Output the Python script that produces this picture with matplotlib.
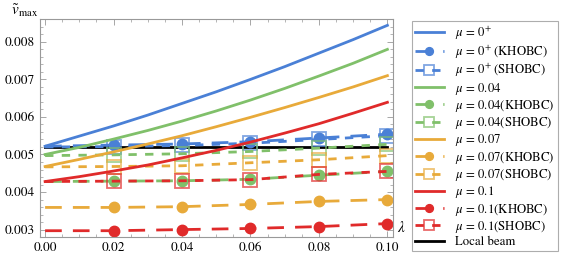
import numpy as np
import matplotlib
matplotlib.use("Agg")
import matplotlib.pyplot as plt
from matplotlib.colors import to_rgba

plt.rcParams['font.family'] = ['STIXGeneral', 'DejaVu Serif']
plt.rcParams['mathtext.fontset'] = 'stix'

# solid curves (analytic, mu values)
lam_fine = [0.0, 0.01, 0.02, 0.03, 0.04, 0.05, 0.06, 0.07, 0.08, 0.09, 0.10]
mu0 = [0.00522, 0.00549, 0.00576, 0.00605, 0.00636, 0.00667, 0.00700, 0.00734, 0.00770, 0.00806, 0.00844]
mu004 = [0.00500, 0.00519, 0.00541, 0.00564, 0.00589, 0.00616, 0.00645, 0.00676, 0.00709, 0.00743, 0.00780]
mu007 = [0.00468, 0.00487, 0.00507, 0.00528, 0.00550, 0.00574, 0.00599, 0.00625, 0.00652, 0.00680, 0.00710]
mu01 = [0.00428, 0.00441, 0.00456, 0.00472, 0.00491, 0.00511, 0.00533, 0.00557, 0.00582, 0.00610, 0.00639]

# simulation points
lam = [0.0, 0.02, 0.04, 0.06, 0.08, 0.10]
mu0_kh = [0.00522, 0.00525, 0.00528, 0.00534, 0.00544, 0.00554]
mu0_sh = [0.00520, 0.00521, 0.00524, 0.00530, 0.00540, 0.00550]
mu004_kh = [0.00428, 0.00429, 0.00430, 0.00434, 0.00445, 0.00455]
mu004_sh = [0.00497, 0.00499, 0.00502, 0.00508, 0.00517, 0.00527]
mu007_kh = [0.00359, 0.00359, 0.00361, 0.00367, 0.00375, 0.00380]
mu007_sh = [0.00467, 0.00468, 0.00470, 0.00478, 0.00486, 0.00497]
mu01_kh = [0.00297, 0.00297, 0.00300, 0.00303, 0.00308, 0.00316]
mu01_sh = [0.00428, 0.00429, 0.00430, 0.00433, 0.00447, 0.00455]
local_beam = [0.00521, 0.00521]
local_lam = [0.0, 0.10]

blue, green, orange, red = '#4a80d6', '#80c06a', '#e8aa3a', '#e02a2a'

fig = plt.figure(figsize=(5.67, 2.67), dpi=100)
ax = fig.add_axes([0.0705, 0.112, 0.623, 0.817])

series = [
    (r'$\mu\,=\,0^{+}$', r'$\;$', blue, mu0, mu0_kh, mu0_sh),
    (r'$\mu\,=\,0.04$', '', green, mu004, mu004_kh, mu004_sh),
    (r'$\mu\,=\,0.07$', '', orange, mu007, mu007_kh, mu007_sh),
    (r'$\mu\,=\,0.1$', '', red, mu01, mu01_kh, mu01_sh),
]
handles = []
for lab, sp, c, solid, kh, sh in series:
    h1, = ax.plot(lam_fine, solid, color=c, lw=2.0, label=lab)
    h2, = ax.plot(lam, kh, color=c, lw=2.0, dashes=(6, 4), marker='o', ms=7.5,
                  markevery=slice(1, None), label=lab + sp + '(KHOBC)')
    h3, = ax.plot(lam, sh, color=c, lw=2.0, dashes=(3, 3), marker='s', ms=9.5,
                  mfc='none', mec=to_rgba(c, 0.7), mew=1.3,
                  markevery=slice(1, None), label=lab + sp + '(SHOBC)')
    handles += [h1, h2, h3]
h4, = ax.plot(local_lam, local_beam, color='black', lw=2.0, zorder=1.5, label='Local beam')
handles.append(h4)

ax.set_xlim(-0.0015, 0.1017)
ax.set_ylim(0.00281, 0.00861)
ax.set_xticks([0.0, 0.02, 0.04, 0.06, 0.08, 0.10])
ax.set_xticklabels(['0.00', '0.02', '0.04', '0.06', '0.08', '0.10'])
ax.set_xticks(np.arange(0, 0.1001, 0.005), minor=True)
ax.set_yticks([0.003, 0.004, 0.005, 0.006, 0.007, 0.008])
ax.set_yticklabels(['0.003', '0.004', '0.005', '0.006', '0.007', '0.008'])
ax.set_yticks(np.arange(0.0028, 0.0086, 0.0002), minor=True)
ax.tick_params(which='both', direction='in', top=True, right=True, color='#999999',
               labelsize=9.5)
ax.tick_params(which='major', length=4, width=0.6)
ax.tick_params(which='minor', length=2, width=0.5)
for s in ax.spines.values():
    s.set_color('#999999')
    s.set_linewidth(0.8)

ax.text(-0.045, 1.0, r'$\tilde{v}_{\rm max}$', transform=ax.transAxes, fontsize=11,
        ha='center', va='bottom')
ax.text(1.01, 0.01, r'$\lambda$', transform=ax.transAxes, fontsize=11,
        ha='left', va='bottom')

leg = fig.legend(handles=handles, loc='upper left', bbox_to_anchor=(0.727, 0.92),
                 fontsize=9.2, frameon=True, fancybox=False, handlelength=2.2,
                 labelspacing=0.1, borderpad=0.25, handletextpad=0.9,
                 borderaxespad=0, markerscale=0.75, edgecolor='#999999')
leg.get_frame().set_linewidth(0.8)

fig.savefig('out.png', dpi=100)
